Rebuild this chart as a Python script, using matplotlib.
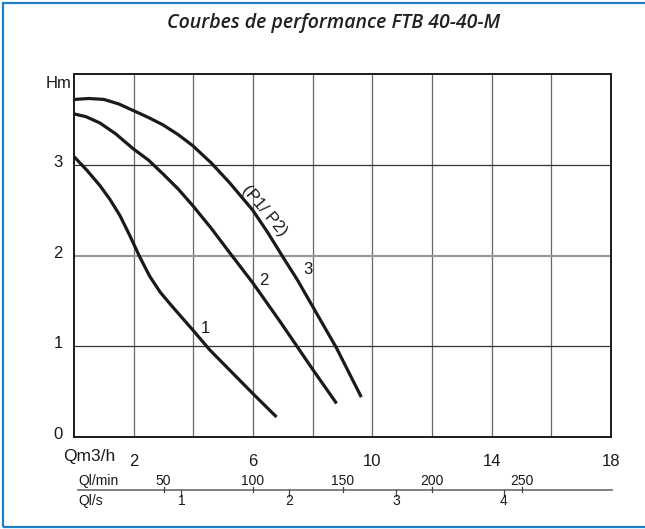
import matplotlib.pyplot as plt
from matplotlib.patches import Rectangle
from matplotlib.transforms import ScaledTranslation

# performance curves, Q in m3/h, H in m
q1 = [0, 0.43, 0.87, 1.20, 1.54, 1.87, 2.21, 2.54, 2.88, 3.21, 3.58, 3.98, 4.55, 5.99, 6.79]
h1 = [3.09, 2.94, 2.77, 2.62, 2.44, 2.22, 1.98, 1.77, 1.60, 1.47, 1.33, 1.18, 0.96, 0.48, 0.22]

q2 = [0, 0.4, 0.87, 1.4, 1.97, 2.5, 2.98, 3.5, 3.98, 4.6, 5.22, 5.99, 6.89, 7.39, 7.99, 8.80]
h2 = [3.56, 3.53, 3.46, 3.34, 3.18, 3.05, 2.90, 2.73, 2.55, 2.30, 2.03, 1.70, 1.28, 1.04, 0.75, 0.37]

q3 = [0.03, 0.5, 1.0, 1.5, 1.97, 2.5, 2.98, 3.5, 3.98, 4.6, 5.22, 5.99, 6.5, 6.99, 7.49, 8.80, 9.63]
h3 = [3.72, 3.73, 3.72, 3.67, 3.60, 3.52, 3.44, 3.33, 3.21, 3.02, 2.80, 2.50, 2.25, 1.99, 1.73, 0.98, 0.44]

curve_labels = ['1', '2', '3', '(P1/ P2)']
label_pos = [(4.41, 1.20), (6.35, 1.72), (7.83, 1.85), (6.39, 2.49)]

x_ticks = [2, 6, 10, 14, 18]
y_ticks = [0, 1, 2, 3]
lmin_ticks = [50, 100, 150, 200, 250]
ls_ticks = [1, 2, 3, 4]

W, H = 645, 529
fig = plt.figure(figsize=(W / 100, H / 100), dpi=100)
plt.rcParams['font.family'] = ['Liberation Sans', 'DejaVu Sans']
ink = '#1a1a1a'

# blue frame around the whole card
fig.patches.append(Rectangle((3 / W, 2 / H), 1.0, (H - 5) / H, transform=fig.transFigure,
                             fill=False, edgecolor='#1f7fc4', lw=1.6))

fig.text(334 / W, 1 - 23 / H, 'Courbes de performance FTB 40-40-M', ha='center', va='center',
         fontsize=14, style='italic', fontweight='semibold', color='#222222',
         family=['Open Sans', 'DejaVu Sans'])

left, right, bottom, top = 74 / W, 611 / W, 1 - 437 / H, 1 - 74 / H
ax = fig.add_axes([left, bottom, right - left, top - bottom])
ax.set_xlim(0, 18)
ax.set_ylim(0, 4)

for x in range(2, 18, 2):
    ax.axvline(x, color='#666666', lw=0.9, zorder=1)
for y in [1, 3]:
    ax.axhline(y, color='#333333', lw=0.9, zorder=1)
ax.axhline(2, color='#999999', lw=1.6, zorder=1)

for q, h in [(q1, h1), (q2, h2), (q3, h3)]:
    ax.plot(q, h, color=ink, lw=2.3, solid_capstyle='butt', solid_joinstyle='round', zorder=3)

for lab, (x, y) in zip(curve_labels, label_pos):
    rot = -50 if lab.startswith('(') else 0
    ax.text(x, y, lab, fontsize=12, ha='center', va='center', rotation=rot,
            rotation_mode='anchor', color=ink, zorder=4)

for s in ax.spines.values():
    s.set_linewidth(1.4)
    s.set_color(ink)

ax.set_xticks(x_ticks)
ax.set_yticks(y_ticks)
ax.tick_params(length=0, labelsize=12, colors=ink, pad=12)
ax.tick_params(axis='y', pad=8)
for t in ax.get_yticklabels():
    t.set_transform(t.get_transform() + ScaledTranslation(0, 4 / 100, fig.dpi_scale_trans))
ax.text(-0.07, 3.90, 'Hm', fontsize=12, ha='right', va='center', color=ink)
ax.text(-0.37, -0.22, 'Qm3/h', fontsize=12.5, ha='left', va='center', color=ink, clip_on=False)

# secondary flow scales (l/min above, l/s below) on the same m3/h axis
line_y = 1 - 490 / H
ax2 = fig.add_axes([left, line_y - 0.03, right - left, 0.06])
ax2.set_xlim(0, 18)
ax2.set_ylim(-1, 1)
ax2.axis('off')
ax2.plot([0.13, 18.05], [0, 0], color='#777777', lw=1.3, clip_on=False)
for v in lmin_ticks:
    x = v * 60 / 1000
    ax2.plot([x, x], [-0.13, 0.19], color='#444444', lw=0.9, clip_on=False)
    ax2.text(x, 0.57, str(v), fontsize=10, ha='center', va='center', color=ink)
for v in ls_ticks:
    x = v * 3.6
    ax2.plot([x, x], [0, -0.35], color='#444444', lw=0.9, clip_on=False)
    ax2.text(x, -0.69, str(v), fontsize=10, ha='center', va='center', color=ink)
ax2.text(0.13, 0.57, 'Ql/min', fontsize=10, ha='left', va='center', color=ink)
ax2.text(0.13, -0.69, 'Ql/s', fontsize=10, ha='left', va='center', color=ink)

fig.savefig('out.png', dpi=100)
